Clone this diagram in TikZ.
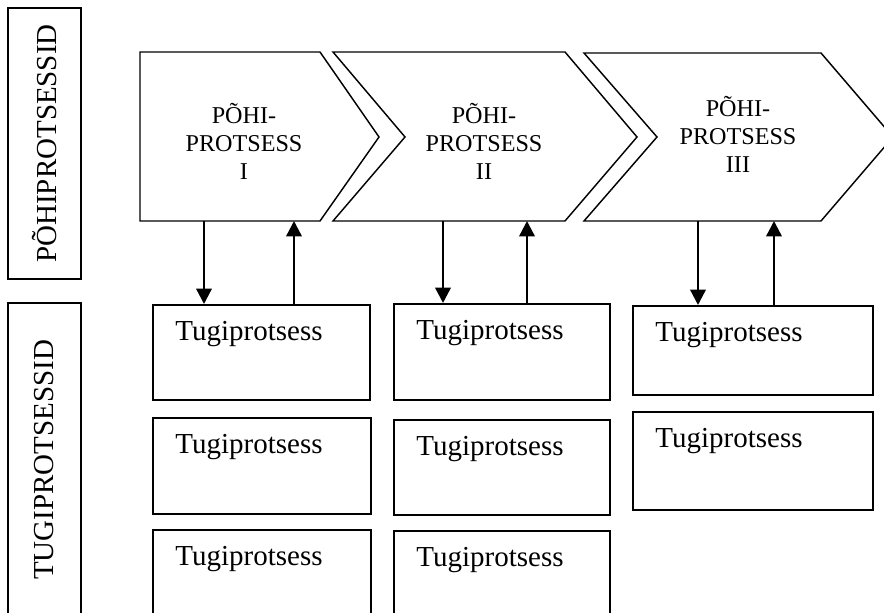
\documentclass[tikz,border=0pt]{standalone}
\usepackage{fontspec}
\setmainfont{Liberation Serif}
\usetikzlibrary{arrows.meta}

\begin{document}
\begin{tikzpicture}
        [%%%%%%%%%%%%%%%%%%%%%%%%%%%%%%
        x=0.414pt, y=-0.414pt,
        chev/.style={draw=black, line width=0.6pt},
        tbox/.style={draw=black, line width=0.7pt, rectangle, inner sep=0pt, anchor=north west},
        side/.style={draw=black, line width=0.7pt, rectangle, inner sep=0pt, rotate=90, font=\fontsize{12}{14}\selectfont},
        ttext/.style={anchor=base west, inner sep=0pt, font=\fontsize{12}{14}\selectfont},
        ptext/.style={align=center, inner sep=0pt, font=\fontsize{10}{11.6}\selectfont},
        arr/.style={line width=1pt, -{Triangle[length=6.4pt,width=6.4pt]}},
        ]%%%%%%%%%%%%%%%%%%%%%%%%%%%%%%
        \useasboundingbox[fill=white] (0,0) rectangle (884,613);
        \clip (0,0) rectangle (884,613);
        % Side labels
        \node[side, minimum width=271*0.414pt, minimum height=73*0.414pt] (pside) at (44.5,143.5) {PÕHIPROTSESSID};
        \node[side, minimum width=314*0.414pt, minimum height=73*0.414pt] (tside) at (44.5,460) {TUGIPROTSESSID};
        % Chevrons
        \draw[chev] (140,52) -- (320,52) -- (379,137) -- (320,221) -- (140,221) -- cycle;
        \draw[chev] (333,52) -- (565,52) -- (637,137) -- (565,221) -- (333,221) -- (405,137) -- cycle;
        \draw[chev] (584,53) -- (821,53) -- (893,137) -- (821,221) -- (584,221) -- (657,137) -- cycle;
        \node[ptext] (p1) at (244,141) {PÕHI-\\PROTSESS\\I};
        \node[ptext] (p2) at (484,141) {PÕHI-\\PROTSESS\\II};
        \node[ptext] (p3) at (738,134) {PÕHI-\\PROTSESS\\III};
        % Support boxes
        \foreach \n/\x/\y/\w/\h in {11/152/304/217/95, 12/152/417/218/96, 13/152/529/218/95,
                                    21/393/303/216/96, 22/393/419/216/95, 23/393/530/216/95,
                                    31/632/305/240/89, 32/632/411/240/98}{
          \node[tbox, minimum width=\w*0.414pt, minimum height=\h*0.414pt] (t\n) at (\x,\y) {};
          \node[ttext] (l\n) at ([shift={(23,37)}]t\n.north west) {Tugiprotsess};
        }
        % Arrows
        \coordinate (d1) at (204,221); \coordinate (u1) at (294,221);
        \coordinate (d2) at (443,221); \coordinate (u2) at (527,221);
        \coordinate (d3) at (698,221); \coordinate (u3) at (774,221);
        \foreach \c in {1,2,3}{
          \draw[arr] (d\c) -- (d\c |- t\c1.north);
          \draw[arr] (u\c |- t\c1.north) -- (u\c);
        }
      \end{tikzpicture}
\end{document}
